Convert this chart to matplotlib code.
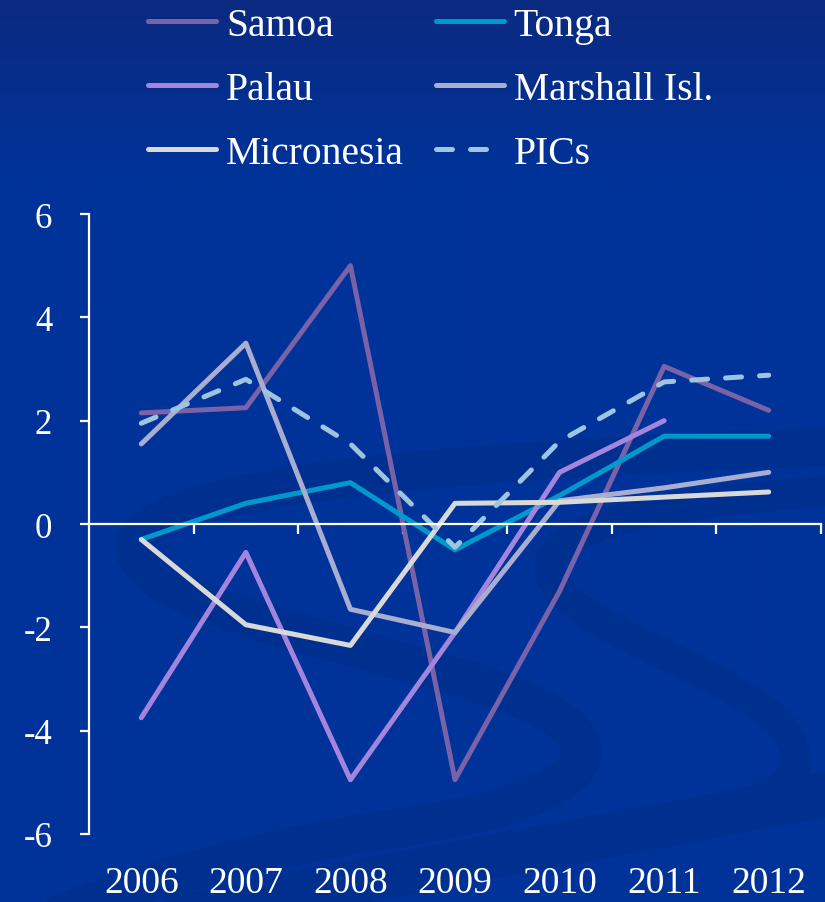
import numpy as np
import matplotlib.pyplot as plt
from matplotlib.path import Path
from matplotlib.patches import PathPatch

# Datos: crecimiento anual por país (%)
years = ['2006', '2007', '2008', '2009', '2010', '2011', '2012']
samoa = [2.15, 2.25, 5.0, -4.95, -1.3, 3.05, 2.2]
tonga = [-0.3, 0.4, 0.8, -0.5, 0.55, 1.7, 1.7]
palau = [-3.75, -0.55, -4.95, -2.1, 1.0, 2.0, np.nan]
marshall = [1.55, 3.5, -1.65, -2.1, 0.45, 0.7, 1.0]
micronesia = [-0.3, -1.95, -2.35, 0.4, 0.42, 0.52, 0.62]
pics = [1.95, 2.8, 1.55, -0.45, 1.6, 2.75, 2.88]

series = [
    ('Samoa', samoa, '#7a62a8', '-'),
    ('Tonga', tonga, '#0099cc', '-'),
    ('Palau', palau, '#a385dd', '-'),
    ('Marshall Isl.', marshall, '#a9aed0', '-'),
    ('Micronesia', micronesia, '#d9d9d9', '-'),
    ('PICs', pics, '#9ec4e0', '--'),
]

plt.rcParams['font.family'] = ['Liberation Serif', 'DejaVu Serif']
plt.rcParams['axes.unicode_minus'] = False

fig = plt.figure(figsize=(8.25, 9.03), dpi=100)

# Fondo azul con degradado y una "S" decorativa más oscura
bg = fig.add_axes([0, 0, 1, 1], zorder=0)
h = 903
t = np.clip(np.arange(h) / 180.0, 0, 1)[:, None]
top = np.array([0x0b, 0x2a, 0x80]) / 255
bot = np.array([0x00, 0x33, 0x99]) / 255
img = top + (bot - top) * t[..., None]
bg.imshow(np.repeat(img, 2, axis=1), aspect='auto', extent=[0, 825, 903, 0],
          interpolation='bilinear')

M, C = Path.MOVETO, Path.CURVE4
trazos = [
    ([(830, 448), (500, 458), (120, 485), (135, 552),
      (150, 615), (400, 650), (520, 700),
      (640, 750), (580, 805), (390, 830),
      (260, 850), (150, 880), (60, 915)], 28),
    ([(830, 492), (650, 505), (520, 530), (555, 585),
      (590, 640), (760, 680), (790, 740),
      (815, 790), (760, 800), (700, 815)], 22),
    ([(180, 918), (450, 862), (700, 822), (840, 792)], 32),
]
for pts, w in trazos:
    codes = [M] + [C] * (len(pts) - 1)
    bg.add_patch(PathPatch(Path(pts, codes), fill=False, edgecolor='#00308f',
                           lw=w, capstyle='round', joinstyle='round'))
bg.set_xlim(0, 825)
bg.set_ylim(903, 0)
bg.axis('off')

ax = fig.add_axes([89 / 825, 68 / 903, 732 / 825, 620 / 903], zorder=1)
ax.patch.set_alpha(0)

x = np.arange(len(years)) + 0.5
lines = {}
for name, vals, color, ls in series:
    ln, = ax.plot(x, vals, color=color, lw=3.6, ls=ls, label=name,
                  solid_capstyle='round', solid_joinstyle='round',
                  dash_capstyle='round')
    if ls == '--':
        ln.set_dashes((3.2, 3.6))
    lines[name] = ln

ax.set_xlim(0, len(years))
ax.set_ylim(-6, 6)
ax.set_yticks(np.arange(-6, 7, 2))
ax.set_xticks(np.arange(1, len(years) + 1))
ax.set_xticklabels([])

for s in ['top', 'right']:
    ax.spines[s].set_visible(False)
ax.spines['bottom'].set_position(('data', 0))
for s in ['left', 'bottom']:
    ax.spines[s].set_color('white')
    ax.spines[s].set_linewidth(1.6)
ax.tick_params(axis='y', colors='white', direction='out', length=6.5,
               width=1.6, pad=20, labelsize=25)
ax.tick_params(axis='x', colors='white', direction='out', length=7,
               width=1.6)

# Años bajo el gráfico
for xi, yr in zip(x, years):
    ax.text(xi, -0.0935, yr, transform=ax.get_xaxis_transform(), ha='center',
            va='baseline', color='white', fontsize=27)

order = ['Samoa', 'Palau', 'Micronesia', 'Tonga', 'Marshall Isl.', 'PICs']
leg = fig.legend([lines[n] for n in order], order, ncol=2, frameon=False,
                 loc='upper left', bbox_to_anchor=(148 / 825, 1 - 8 / 903),
                 borderpad=0, borderaxespad=0, fontsize=28.5, handlelength=1.72,
                 handletextpad=0.25, columnspacing=0.8, labelspacing=0.68,
                 labelcolor='white')

fig.savefig('out.png', dpi=100, facecolor='#003399')
